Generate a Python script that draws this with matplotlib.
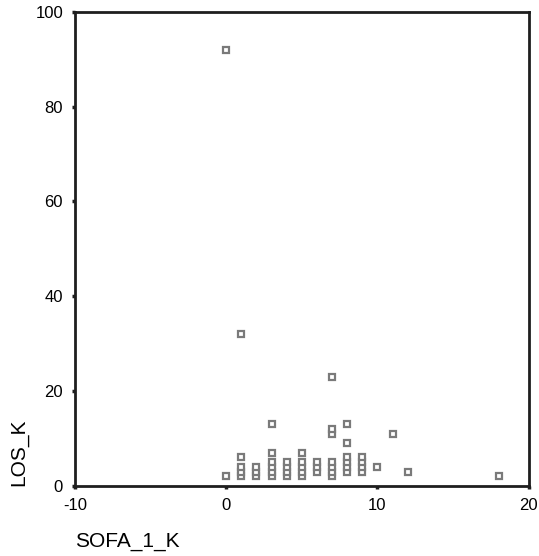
import numpy as np
import matplotlib.pyplot as plt

plt.rcParams['font.family'] = ['Liberation Sans', 'DejaVu Sans']
plt.rcParams['axes.unicode_minus'] = False

# SOFA score vs. length of stay, one entry per patient
sofa = [0, 0,
        1, 1, 1, 1, 1,
        2, 2, 2,
        3, 3, 3, 3, 3, 3,
        4, 4, 4, 4,
        5, 5, 5, 5, 5,
        6, 6, 6,
        7, 7, 7, 7, 7, 7, 7,
        8, 8, 8, 8, 8, 8,
        9, 9, 9, 9,
        10, 11, 12, 18]
los = [2, 92,
       2, 3, 4, 6, 32,
       2, 3, 4,
       2, 3, 4, 5, 7, 13,
       2, 3, 4, 5,
       2, 3, 4, 5, 7,
       3, 4, 5,
       2, 3, 4, 5, 11, 12, 23,
       3, 4, 5, 6, 9, 13,
       3, 4, 5, 6,
       4, 11, 3, 2]

xticks = [-10, 0, 10, 20]
yticks = [0, 20, 40, 60, 80, 100]

fig = plt.figure(figsize=(5.39, 5.56), dpi=100)
ax = fig.add_axes([0.139, 0.126, 0.842, 0.853])

ax.plot(sofa, los, linestyle='none', marker='s', markersize=4.6,
        markerfacecolor='white', markeredgecolor='#7a7a7a',
        markeredgewidth=1.6, clip_on=False)

ax.set_xlim(-10, 20)
ax.set_ylim(0, 100)
ax.set_xticks(xticks)
ax.set_yticks(yticks)

for side in ax.spines.values():
    side.set_linewidth(2.0)
    side.set_color('#1e1e1e')

ax.tick_params(axis='both', direction='out', length=2.5, width=2.5,
               color='#1e1e1e', labelsize=12, pad=6)
ax.tick_params(top=False, right=False)

ax.set_xlabel('SOFA_1_K', fontsize=15, loc='left', labelpad=14)
ax.set_ylabel('LOS_K', fontsize=15, loc='bottom', labelpad=5)

fig.savefig('out.png', dpi=100)
